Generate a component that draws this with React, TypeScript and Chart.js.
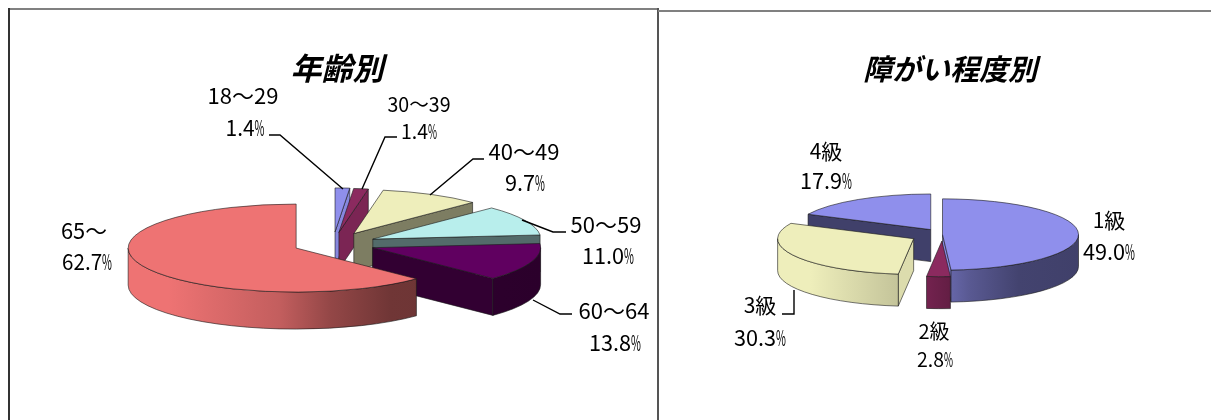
import React, { useEffect, useRef } from "react";
import { Chart, registerables } from "chart.js";

Chart.register(...registerables);

const FONT = '"Noto Sans CJK JP", "Noto Sans", sans-serif';

const ageCategories = ["18～29", "30～39", "40～49", "50～59", "60～64", "65～"];
const agePercents = [1.4, 1.4, 9.7, 11.0, 13.8, 62.7];
const ageColors = ["#8F8FEC", "#8B2A5F", "#EEEEBB", "#B8EEEC", "#600060", "#EE7373"];
const ageExplode = [46, 45, 45, 44, 42, 40];

const gradeCategories = ["1級", "2級", "3級", "4級"];
const gradePercents = [49.0, 2.8, 30.3, 17.9];
const gradeColors = ["#8F8FEC", "#8B2A5F", "#EEEEBB", "#8F8FEC"];
const gradeExplode = [0, 25, 33, 22];

type Lab = { cat: string; pct: string; cx: number; y1: number; y2: number; pcx: number; size: number; psize: number; w: number; pw: number; lead?: number[][] };

const ageLabels: Lab[] = [
  { cat: "18～29", pct: "1.4%", cx: 243, y1: 96, pcx: 245, y2: 128, size: 22, psize: 22, w: 71, pw: 39, lead: [[269, 135], [280, 135], [343, 189]] },
  { cat: "30～39", pct: "1.4%", cx: 419, y1: 104, pcx: 419, y2: 131, size: 20, psize: 20, w: 63, pw: 36, lead: [[397, 137], [385, 137], [362, 189]] },
  { cat: "40～49", pct: "9.7%", cx: 524, y1: 152, pcx: 525, y2: 183, size: 22, psize: 22, w: 72, pw: 40, lead: [[484, 159], [473, 159], [430, 195]] },
  { cat: "50～59", pct: "11.0%", cx: 606, y1: 225, pcx: 608, y2: 256, size: 22, psize: 22, w: 72, pw: 52, lead: [[522, 220], [553, 232], [566, 232]] },
  { cat: "60～64", pct: "13.8%", cx: 614, y1: 311, pcx: 615, y2: 343, size: 22, psize: 22, w: 72, pw: 52, lead: [[533, 300], [560, 314], [572, 314]] },
  { cat: "65～", pct: "62.7%", cx: 84, y1: 231, pcx: 87, y2: 262, size: 22, psize: 22, w: 46, pw: 50 },
];
const gradeLabels: Lab[] = [
  { cat: "1級", pct: "49.0%", cx: 1109, y1: 220, pcx: 1109, y2: 252, size: 21, psize: 22, w: 37, pw: 52 },
  { cat: "2級", pct: "2.8%", cx: 934, y1: 331, pcx: 935, y2: 359, size: 20, psize: 20, w: 32, pw: 36 },
  { cat: "3級", pct: "30.3%", cx: 760, y1: 305, pcx: 760, y2: 338, size: 21, psize: 22, w: 34, pw: 52, lead: [[782, 314], [794, 314], [794, 290]] },
  { cat: "4級", pct: "17.9%", cx: 826, y1: 151, pcx: 826, y2: 181, size: 21, psize: 22, w: 34, pw: 52 },
];

const TILT = 0.262;

function shade(hex: string, f: number) {
  const n = parseInt(hex.slice(1), 16);
  const c = [(n >> 16) & 255, (n >> 8) & 255, n & 255].map((v) => Math.round(v * f));
  return `rgb(${c[0]},${c[1]},${c[2]})`;
}

function pie3d(colors: string[], explode: number[], depth: number, shiftX: number, labels: Lab[], originX: number) {
  return {
    id: "pie3d",
    beforeDatasetDraw(chart: any) {
      const ctx: CanvasRenderingContext2D = chart.ctx;
      const arcs = chart.getDatasetMeta(0).data.map((arc: any, i: number) => ({ arc, i }));
      arcs.sort((p: any, q: any) => Math.sin((p.arc.startAngle + p.arc.endAngle) / 2) - Math.sin((q.arc.startAngle + q.arc.endAngle) / 2));
      ctx.save();
      ctx.lineJoin = "round";
      const line = "rgba(25,25,25,0.75)";
      for (const { arc, i } of arcs) {
        const { startAngle: a0, endAngle: a1, outerRadius: R } = arc;
        const h = (a0 + a1) / 2;
        const px = arc.x + shiftX + Math.cos(h) * explode[i];
        const py = arc.y + Math.sin(h) * explode[i] * TILT;
        const ry = R * TILT;
        const col = colors[i];
        ctx.strokeStyle = line;
        ctx.lineWidth = 0.8;
        const face = (a: number, ny: number) => {
          if (ny <= 0.001) return;
          const ex = px + Math.cos(a) * R;
          const ey = py + Math.sin(a) * ry;
          ctx.beginPath();
          ctx.moveTo(px, py);
          ctx.lineTo(ex, ey);
          ctx.lineTo(ex, ey + depth);
          ctx.lineTo(px, py + depth);
          ctx.closePath();
          ctx.fillStyle = shade(col, Math.max(0.45, Math.min(1, 1 - 0.67 * ny)));
          ctx.fill();
          ctx.stroke();
        };
        face(a0, -Math.cos(a0));
        face(a1, Math.cos(a1));
        const s = Math.max(a0, 0);
        const e = Math.min(a1, Math.PI);
        if (e > s) {
          const g = ctx.createLinearGradient(px - R, 0, px + R, 0);
          const stops = [[0, 1], [0.12, 1], [0.45, 0.82], [0.6, 0.62], [0.78, 0.47], [1, 0.45]];
          stops.forEach(([t, f]) => g.addColorStop(t, shade(col, f)));
          ctx.beginPath();
          ctx.ellipse(px, py, R, ry, 0, s, e);
          ctx.ellipse(px, py + depth, R, ry, 0, e, s, true);
          ctx.closePath();
          ctx.fillStyle = g;
          ctx.fill();
          ctx.stroke();
        }
        ctx.beginPath();
        ctx.moveTo(px, py);
        ctx.ellipse(px, py, R, ry, 0, a0, a1);
        ctx.closePath();
        ctx.fillStyle = col;
        ctx.fill();
        ctx.stroke();
      }
      ctx.restore();
      return false;
    },
    afterDraw(chart: any) {
      const ctx: CanvasRenderingContext2D = chart.ctx;
      ctx.save();
      ctx.textBaseline = "middle";
      ctx.fillStyle = "#000";
      ctx.strokeStyle = "#000";
      ctx.lineWidth = 1.4;
      for (const l of labels) {
        ctx.textAlign = "center";
        ctx.font = `${l.size}px ${FONT}`;
        ctx.fillText(l.cat, l.cx - originX, l.y1, l.w);
        // Number at near full width, with the percent sign squeezed narrow as in the source font.
        ctx.font = `${l.psize}px ${FONT}`;
        ctx.textAlign = "left";
        const signW = l.psize * 0.45;
        const left = l.pcx - originX - l.pw / 2;
        ctx.fillText(l.pct.slice(0, -1), left, l.y2, l.pw - signW);
        ctx.fillText("%", left + l.pw - signW, l.y2, signW);
        if (l.lead) {
          ctx.beginPath();
          l.lead.forEach(([x, y], k) => (k ? ctx.lineTo(x - originX, y) : ctx.moveTo(x - originX, y)));
          ctx.stroke();
        }
      }
      ctx.restore();
    },
  };
}

function PieCanvas(props: any) {
  const ref = useRef<HTMLCanvasElement>(null);
  useEffect(() => {
    const { title, titleSize, titleTop, cats, vals, colors, explode, depth, radius, shiftX, labels, originX, padding } = props;
    const chart = new Chart(ref.current!, {
      type: "pie",
      data: { labels: cats, datasets: [{ data: vals, backgroundColor: colors, borderWidth: 0 }] },
      options: {
        responsive: false,
        animation: false,
        radius,
        layout: { padding },
        plugins: {
          legend: { display: false },
          tooltip: { enabled: false },
          title: {
            display: true,
            text: title,
            color: "#000",
            font: { family: FONT, size: titleSize, weight: "bold", style: "italic", lineHeight: 1.2 },
            padding: { top: titleTop, bottom: 0 },
          },
        },
      },
      plugins: [pie3d(colors, explode, depth, shiftX, labels, originX)],
    } as any);
    return () => chart.destroy();
  }, []);
  return <canvas ref={ref} width={props.w} height={420} style={{ position: "absolute", left: props.originX, top: 0, display: "block" }} />;
}

export default function App() {
  const bar = (left: number, top: number, width: number, height: number, background: string) => (
    <div style={{ position: "absolute", left, top, width, height, background }} />
  );
  return (
    <div style={{ position: "absolute", left: 0, top: 0, width: 1211, height: 420, overflow: "hidden", background: "#fff" }}>
      <PieCanvas
        title="年齢別" titleSize={31} titleTop={50} cats={ageCategories} vals={agePercents} colors={ageColors} explode={ageExplode}
        depth={37} radius={168} shiftX={-4} labels={ageLabels} originX={0} w={658}
        padding={{ left: 16, right: 0, top: 0, bottom: 19.2 }}
      />
      <PieCanvas
        title="障がい程度別" titleSize={29} titleTop={52} cats={gradeCategories} vals={gradePercents} colors={gradeColors} explode={gradeExplode}
        depth={32} radius={136} shiftX={-7.5} labels={gradeLabels} originX={658} w={553}
        padding={{ left: 31, right: 0, top: 0, bottom: 37.8 }}
      />
      {bar(9, 8, 649, 1.5, "#808080")}
      {bar(8, 8, 1.5, 412, "#333")}
      {bar(657, 8, 1.5, 412, "#555")}
      {bar(658, 10, 553, 1.5, "#808080")}
    </div>
  );
}
